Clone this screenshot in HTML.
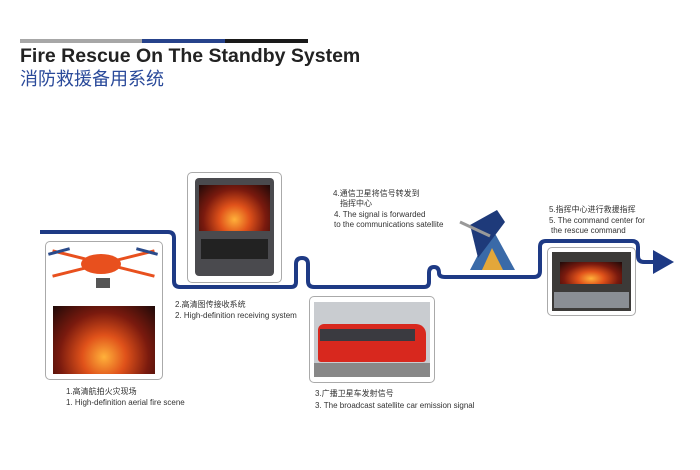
<!DOCTYPE html>
<html><head><meta charset="utf-8"><style>
body{margin:0;width:700px;height:470px;background:#fff;position:relative;overflow:hidden;font-family:"Liberation Sans","Noto Sans CJK SC",sans-serif}
.t{position:absolute;color:#333;white-space:nowrap;font-size:8px;line-height:10px}
.box{position:absolute;border:1px solid #aaa;border-radius:5px;background:#fff}
.fire{position:absolute;background:radial-gradient(ellipse at 50% 75%,#ffb13a 0%,#e0521a 30%,#7a1a0e 62%,#1e0908 100%)}
</style></head><body>
<div style="position:absolute;left:20px;top:39px;width:122px;height:4px;background:#a7a7a7"></div>
<div style="position:absolute;left:142px;top:39px;width:83px;height:4px;background:#26428b"></div>
<div style="position:absolute;left:225px;top:39px;width:83px;height:4px;background:#1a1a1a"></div>
<div class="t" style="left:20px;top:45px;font-size:19.5px;line-height:23px;font-weight:bold;color:#222">Fire Rescue On The Standby System</div>
<div class="t" style="left:20px;top:68px;font-size:18px;line-height:23px;color:#2a4a9a">消防救援备用系统</div>

<svg width="700" height="470" style="position:absolute;left:0;top:0">
<path d="M40 232 H168 Q174 232 174 238 V281 Q174 287 180 287 H291 Q296 287 296 282 V264 Q296 258 302 258 Q308 258 308 264 V281 Q308 287 314 287 H424 Q429 287 429 282 V273 Q429 267 434 267 Q439 267 439 273 Q439 277 445 277 H534 Q540 277 540 271 V247 Q540 241 546 241 H632 Q638 241 638 247 V256 Q638 262 644 262 H655" fill="none" stroke="#1e3a85" stroke-width="4"/>
<polygon points="653,250 674,262 653,274" fill="#1e3a85"/>
<polygon points="470,270 492,228 515,270" fill="#3a6aa8"/>
<polygon points="482,270 492,248 503,270" fill="#e3a73a"/>
<polygon points="470,225 497,210 505,222 478,258" fill="#1e3a7a"/>
<line x1="460" y1="222" x2="490" y2="236" stroke="#999" stroke-width="3"/>
</svg>

<div class="box" style="left:45px;top:241px;width:116px;height:137px">
 <div style="position:absolute;left:5px;top:20px;width:105px;height:3px;background:#e8501e;transform:rotate(14deg)"></div>
 <div style="position:absolute;left:5px;top:20px;width:105px;height:3px;background:#e8501e;transform:rotate(-14deg)"></div>
 <div style="position:absolute;left:35px;top:12px;width:40px;height:20px;background:#e8501e;border-radius:50%"></div>
 <div style="position:absolute;left:2px;top:8px;width:22px;height:3px;background:#2a4a8a;transform:rotate(-15deg)"></div>
 <div style="position:absolute;left:90px;top:8px;width:22px;height:3px;background:#2a4a8a;transform:rotate(15deg)"></div>
 <div style="position:absolute;left:50px;top:36px;width:14px;height:10px;background:#555"></div>
 <div class="fire" style="left:7px;top:64px;width:102px;height:68px"></div>
</div>
<div class="box" style="left:187px;top:172px;width:93px;height:109px">
 <div style="position:absolute;left:7px;top:5px;width:79px;height:98px;background:#4a4a4e;border-radius:4px"></div>
 <div class="fire" style="left:11px;top:12px;width:71px;height:46px"></div>
 <div style="position:absolute;left:13px;top:66px;width:67px;height:20px;background:#222"></div>
</div>
<div class="box" style="left:309px;top:296px;width:124px;height:85px">
 <div style="position:absolute;left:4px;top:5px;width:116px;height:75px;background:#c9ccd0"></div>
 <div style="position:absolute;left:8px;top:27px;width:108px;height:38px;background:#d8281e;border-radius:6px 10px 3px 3px"></div>
 <div style="position:absolute;left:10px;top:32px;width:95px;height:12px;background:#3a3a40"></div>
 <div style="position:absolute;left:4px;top:66px;width:116px;height:14px;background:#888"></div>
</div>
<div class="box" style="left:547px;top:247px;width:87px;height:67px">
 <div style="position:absolute;left:4px;top:4px;width:79px;height:59px;background:#3c3a38"></div>
 <div class="fire" style="left:12px;top:14px;width:62px;height:22px"></div>
 <div style="position:absolute;left:6px;top:44px;width:75px;height:16px;background:#8a8e94"></div>
</div>

<div class="t" style="left:175px;top:300px">2.高清图传接收系统</div>
<div class="t" style="left:175px;top:311px">2. High-definition receiving system</div>
<div class="t" style="left:66px;top:387px">1.高清航拍火灾现场</div>
<div class="t" style="left:66px;top:398px">1. High-definition aerial fire scene</div>
<div class="t" style="left:315px;top:389px">3.广播卫星车发射信号</div>
<div class="t" style="left:315px;top:401px">3. The broadcast satellite car emission signal</div>
<div class="t" style="left:333px;top:189px">4.通信卫星将信号转发到</div>
<div class="t" style="left:340px;top:199px">指挥中心</div>
<div class="t" style="left:334px;top:210px">4. The signal is forwarded</div>
<div class="t" style="left:334px;top:220px">to the communications satellite</div>
<div class="t" style="left:549px;top:205px">5.指挥中心进行救援指挥</div>
<div class="t" style="left:549px;top:216px">5. The command center for</div>
<div class="t" style="left:551px;top:226px">the rescue command</div>
</body></html>
